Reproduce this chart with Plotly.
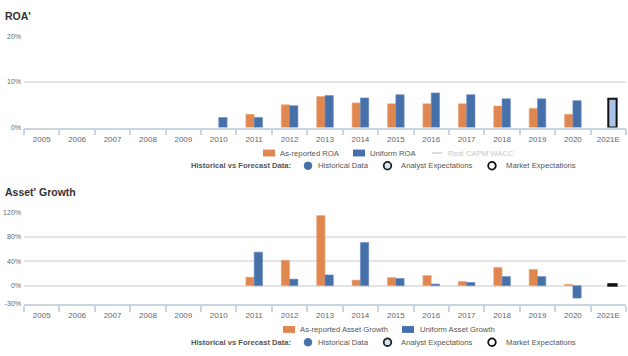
import plotly.graph_objects as go

years = ["2005", "2006", "2007", "2008", "2009", "2010", "2011", "2012", "2013",
         "2014", "2015", "2016", "2017", "2018", "2019", "2020", "2021E"]

roa_reported = [None, None, None, None, None, None, 2.9, 5.0, 6.8, 5.4, 5.2, 5.2, 5.2, 4.7, 4.2, 2.9, None]
roa_uniform = [None, None, None, None, None, 2.2, 2.2, 4.8, 7.0, 6.5, 7.2, 7.6, 7.2, 6.3, 6.3, 5.9, 6.3]

ag_reported = [None, None, None, None, None, None, 13.9, 41.7, 115.0, 9.1, 13.4, 16.6, 7.0, 30.0, 26.7, 2.1, None]
ag_uniform = [None, None, None, None, None, None, 55.0, 10.7, 17.6, 71.0, 11.8, 2.7, 5.3, 15.0, 15.0, -20.3, 2.5]

roa_ticks = [0, 10, 20]
roa_ticktext = ["0%", "10%", "20%"]
ag_ticks = [-30, 0, 40, 80, 120]
ag_ticktext = ["-30%", "0%", "40%", "80%", "120%"]

ORANGE = "#E0874F"
BLUE = "#4670AA"
LIGHT = "#A9C4E8"
GRID = "#E4E4E4"
AXIS = "#CAD5E2"
TXT = "#555555"
FONT = "Liberation Sans"

W, H = 628, 356
ML, MR = 24, 2


def px(x):
    return (x - ML) / (W - ML - MR)


def py(y):
    return 1 - y / H


n = len(years)
fc_color = [BLUE] * (n - 1) + [LIGHT]
fc_line_color = ["#6A8CC0"] * (n - 1) + ["#111111"]
fc_line_w = [0.6] * (n - 1) + [2]

fig = go.Figure()
fig.add_trace(go.Bar(x=years, y=roa_reported, marker=dict(color=ORANGE, line=dict(color="#EDA780", width=0.6)),
                     xaxis="x", yaxis="y", showlegend=False))
fig.add_trace(go.Bar(x=years, y=roa_uniform, marker=dict(color=fc_color, line=dict(color=fc_line_color, width=fc_line_w)),
                     xaxis="x", yaxis="y", showlegend=False))
fig.add_trace(go.Bar(x=years, y=ag_reported, marker=dict(color=ORANGE, line=dict(color="#EDA780", width=0.6)),
                     xaxis="x2", yaxis="y2", showlegend=False))
fig.add_trace(go.Bar(x=years, y=ag_uniform, marker=dict(color=fc_color, line=dict(color=fc_line_color, width=fc_line_w)),
                     xaxis="x2", yaxis="y2", showlegend=False))

axis_x = dict(type="category", showgrid=False, showline=True, linecolor=AXIS, linewidth=1.5,
              ticks="outside", tickson="boundaries", ticklen=6, tickcolor=AXIS, tickwidth=1.5,
              tickfont=dict(family=FONT, size=8, color="#666666"), fixedrange=True, domain=[0, 1],
              ticklabelstandoff=3)
axis_y = dict(showgrid=True, gridcolor=GRID, gridwidth=1.5, zeroline=False, showline=False,
              ticks="", tickfont=dict(family=FONT, size=7, color="#666666"),
              fixedrange=True, ticklabelstandoff=2)

fig.update_layout(
    width=W, height=H,
    margin=dict(l=ML, r=MR, t=0, b=0),
    paper_bgcolor="white", plot_bgcolor="white",
    barmode="group", bargap=0.53, bargroupgap=0,
    xaxis=dict(axis_x, anchor="y"),
    yaxis=dict(axis_y, domain=[py(126), py(33)], range=[0, 20], tickvals=roa_ticks, ticktext=roa_ticktext),
    xaxis2=dict(axis_x, anchor="y2"),
    yaxis2=dict(axis_y, domain=[py(306), py(212.7)], range=[-30, 120], tickvals=ag_ticks, ticktext=ag_ticktext),
    font=dict(family=FONT),
    hovermode=False,
)

annotations = []
shapes = []


def text(x, y, s, size=7.7, color=TXT, bold=False):
    annotations.append(dict(xref="paper", yref="paper", x=px(x), y=py(y), xanchor="left", yanchor="middle",
                            text=f"<b>{s}</b>" if bold else s, showarrow=False,
                            font=dict(family=FONT, size=size, color=color)))


def swatch(x0, x1, y, color):
    shapes.append(dict(type="rect", xref="paper", yref="paper", x0=px(x0), x1=px(x1), y0=py(y + 3.5), y1=py(y - 3.5),
                       fillcolor=color, line=dict(width=0)))


def circle(xc, y, fill, line_color, lw):
    shapes.append(dict(type="circle", xref="paper", yref="paper", xsizemode="pixel", ysizemode="pixel",
                       xanchor=px(xc), yanchor=py(y), x0=-3.8, x1=3.8, y0=-3.8, y1=3.8,
                       fillcolor=fill, line=dict(color=line_color, width=lw)))


# titles
text(3, 12, "ROA'", size=10.5, color="#333333", bold=True)
text(3, 192, "Asset' Growth", size=10.5, color="#333333", bold=True)

# top legend
swatch(263, 275, 152, ORANGE)
text(278, 152, "As-reported ROA")
swatch(353, 365, 152, BLUE)
text(368, 152, "Uniform ROA")
shapes.append(dict(type="line", xref="paper", yref="paper", x0=px(432), x1=px(442), y0=py(152), y1=py(152),
                   line=dict(color="#D0D0D0", width=1.5)))
text(446, 152, "Real CAPM WACC", color="#C8C8C8")


def hist_row(y):
    text(189, y, "Historical vs Forecast Data:", size=7.6, color="#555555", bold=True)
    circle(308, y, BLUE, BLUE, 1)
    text(316, y, "Historical Data")
    circle(387.5, y, "#D6E6F7", "#222222", 1.8)
    text(399, y, "Analyst Expectations")
    circle(492, y, "white", "#111111", 1.8)
    text(504, y, "Market Expectations")


hist_row(165)

# bottom legend
swatch(283, 295, 332, ORANGE)
text(298, 332, "As-reported Asset Growth")
swatch(402, 414, 332, BLUE)
text(418, 332, "Uniform Asset Growth")
hist_row(345)

fig.update_layout(annotations=annotations, shapes=shapes)

fig.write_html("out.html", config={"displayModeBar": False},
               post_script="document.body.style.margin='0';document.body.style.padding='0';")
